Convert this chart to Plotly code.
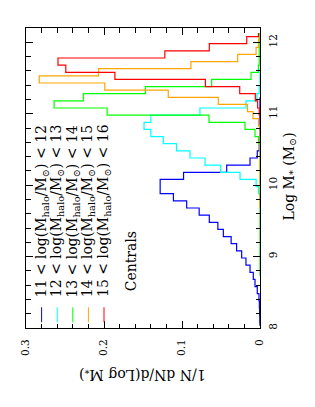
import plotly.graph_objects as go

# ---- data (bin centres in Log M*, value = 1/N dN/d(Log M*)) ----
blue_logm = [8.03, 8.13, 8.23, 8.33, 8.43, 8.53, 8.63, 8.73, 8.83, 8.93,
             9.03, 9.13, 9.23, 9.33, 9.43, 9.53, 9.63, 9.73, 9.83, 9.93,
             10.03, 10.13, 10.23, 10.33, 10.43, 10.53, 10.63, 10.73, 10.83,
             10.93, 11.03, 11.13, 11.23]
blue_val = [0.0001, 0.0003, 0.0005, 0.0008, 0.0013, 0.0035, 0.0064, 0.0086, 0.0128, 0.018,
            0.0235, 0.030, 0.037, 0.047, 0.054, 0.065, 0.078, 0.094, 0.111, 0.128,
            0.128, 0.098, 0.0427, 0.0128, 0.0035, 0.001, 0, 0, 0,
            0, 0, 0, 0]

cyan_logm = [9.73, 9.83, 9.93, 10.03, 10.13, 10.23, 10.33, 10.43, 10.53, 10.63,
             10.73, 10.83, 10.93, 11.03, 11.13, 11.23, 11.33, 11.43, 11.53, 11.63]
cyan_val = [0, 0, 0.002, 0.005, 0.0256, 0.0504, 0.0705, 0.0897, 0.107, 0.124,
            0.140, 0.1487, 0.140, 0.077, 0.018, 0.004, 0.001, 0, 0, 0]

green_logm = [8.73, 8.83, 8.93, 9.03, 9.13, 9.23, 9.33, 9.43, 9.53, 9.63,
              9.73, 9.83, 9.93, 10.03, 10.13, 10.23, 10.33, 10.43, 10.53, 10.63,
              10.73, 10.83, 10.93, 11.03, 11.13, 11.23, 11.33, 11.43, 11.53, 11.63,
              11.73, 11.83, 11.93, 12.03, 12.13]
green_val = [0, 0, 0, 0, 0, 0, 0, 0, 0, 0,
             0, 0, 0, 0, 0, 0, 0, 0, 0, 0.002,
             0.0064, 0.0192, 0.0654, 0.196, 0.264, 0.2265, 0.147, 0.062, 0.0115, 0.002,
             0.001, 0.001, 0.001, 0.001, 0.001]

orange_logm = [9.68, 9.78, 9.88, 9.98, 10.08, 10.18, 10.28, 10.38, 10.48, 10.58,
               10.68, 10.78, 10.88, 10.98, 11.08, 11.18, 11.28, 11.38, 11.48, 11.58,
               11.68, 11.78, 11.88, 11.98, 12.08]
orange_val = [0, 0, 0, 0, 0, 0, 0, 0, 0, 0,
              0, 0, 0.002, 0.009, 0.016, 0.0535, 0.1176, 0.199, 0.283, 0.207,
              0.0885, 0.0286, 0.005, 0.002, 0.001]

red_logm = [10.93, 11.03, 11.13, 11.23, 11.33, 11.43, 11.53, 11.63, 11.73, 11.83,
            11.93, 12.03, 12.13]
red_val = [0, 0.001, 0.003, 0.006, 0.026, 0.070, 0.186, 0.249, 0.259, 0.122,
           0.065, 0.017, 0.002]

series_labels = ["11 < log(M<sub>halo</sub>/M<sub>⊙</sub>) < 12",
                 "12 < log(M<sub>halo</sub>/M<sub>⊙</sub>) < 13",
                 "13 < log(M<sub>halo</sub>/M<sub>⊙</sub>) < 14",
                 "14 < log(M<sub>halo</sub>/M<sub>⊙</sub>) < 15",
                 "15 < log(M<sub>halo</sub>/M<sub>⊙</sub>) < 16"]
series_colors = ["#0000ff", "#00ffff", "#00ff00", "#ffa500", "#ff0000"]
legend_x = [0.28, 0.26, 0.24, 0.22, 0.20]

x_ticks = [0, 0.1, 0.2, 0.3]
x_ticklabels = ["0", "0.1", "0.2", "0.3"]
y_ticks = [8, 9, 10, 11, 12]
y_ticklabels = ["8", "9", "10", "11", "12"]

FONT = "DejaVu Serif"

fig = go.Figure()
all_series = [(blue_val, blue_logm), (cyan_val, cyan_logm), (green_val, green_logm),
              (orange_val, orange_logm), (red_val, red_logm)]
for (v, m), c in zip(all_series, series_colors):
    fig.add_trace(go.Scatter(x=v, y=m, mode="lines",
                             line=dict(color=c, width=1.2, shape="vhv"),
                             showlegend=False, hoverinfo="skip", cliponaxis=True))

annotations = []
shapes = []
for lab, c, lx in zip(series_labels, series_colors, legend_x):
    shapes.append(dict(type="line", xref="x", yref="y", x0=lx, x1=lx, y0=8.08, y1=8.29,
                       line=dict(color=c, width=1)))
    annotations.append(dict(text=lab, xref="x", yref="y", x=lx, y=8.40,
                            xanchor="center", yanchor="bottom", textangle=-90,
                            showarrow=False, font=dict(family=FONT, size=14, color="black")))
annotations.append(dict(text="Centrals", xref="x", yref="y", x=0.165, y=8.49,
                        xanchor="center", yanchor="bottom", textangle=-90,
                        showarrow=False, font=dict(family=FONT, size=14, color="black")))
annotations.append(dict(text="Log M<sub>*</sub> (M<sub>⊙</sub>)", xref="paper", yref="paper",
                        x=1.124, y=0.505, xanchor="center", yanchor="middle", textangle=-90,
                        showarrow=False, font=dict(family=FONT, size=14, color="black")))
annotations.append(dict(text="1/N dN/d(Log M<sub>*</sub>)", xref="paper", yref="paper",
                        x=0.495, y=-0.155, xanchor="center", yanchor="middle", textangle=180,
                        showarrow=False, font=dict(family=FONT, size=14, color="black")))

axis_common = dict(showline=True, linecolor="black", linewidth=1, mirror="ticks",
                   ticks="inside", ticklen=7, tickwidth=1, tickcolor="black",
                   showgrid=False, zeroline=False,
                   tickfont=dict(family=FONT, size=10.5, color="black"))

# the page body has an 8px default margin, so the figure is made 8px smaller
fig.update_layout(
    width=307, height=399,
    margin=dict(l=18, r=55, t=20, b=79),
    paper_bgcolor="white", plot_bgcolor="white",
    xaxis=dict(range=[0.3, 0], tickvals=x_ticks, ticktext=x_ticklabels, tickangle=-90,
               minor=dict(dtick=0.02, tick0=0, ticks="inside", ticklen=4.5, tickcolor="black"),
               ticklabelstandoff=6, **axis_common),
    yaxis=dict(range=[8, 12.2], tickvals=y_ticks, ticktext=y_ticklabels, tickangle=-90,
               side="right",
               minor=dict(dtick=0.2, tick0=8, ticks="inside", ticklen=4.5, tickcolor="black"),
               ticklabelstandoff=3, **axis_common),
    annotations=annotations, shapes=shapes,
)

fig.write_html("out.html")
